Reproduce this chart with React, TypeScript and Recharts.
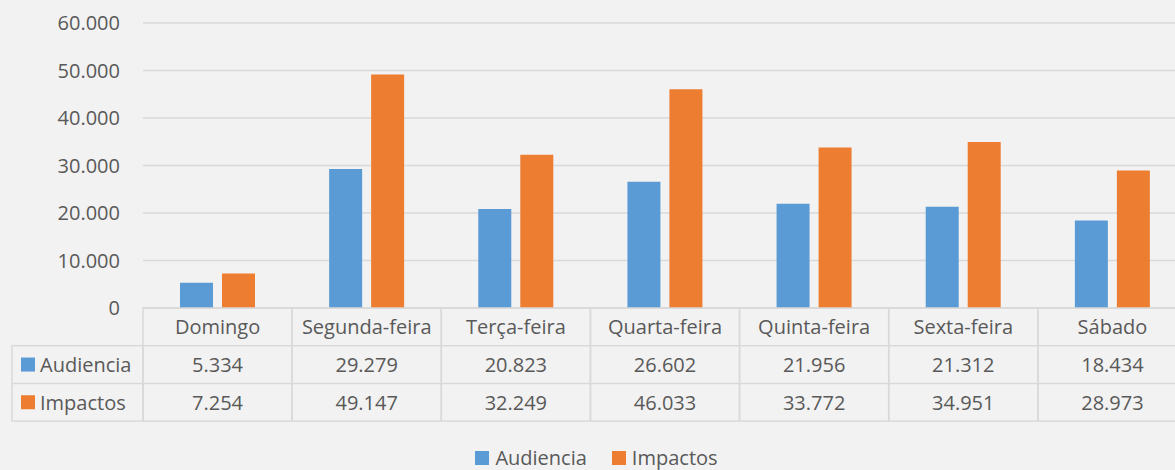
import React from "react";
import { Bar, BarChart, CartesianGrid, Legend, XAxis, YAxis } from "recharts";

const DAYS = ["Domingo", "Segunda-feira", "Terça-feira", "Quarta-feira", "Quinta-feira", "Sexta-feira", "Sábado"];
const AUDIENCIA = [5334, 29279, 20823, 26602, 21956, 21312, 18434];
const IMPACTOS = [7254, 49147, 32249, 46033, 33772, 34951, 28973];
const Y_TICKS = [0, 10000, 20000, 30000, 40000, 50000, 60000];

const BLUE = "#5b9bd5";
const ORANGE = "#ed7d31";
const TEXT = "#595959";
const LINE = "#d9d9d9";
const FONT = "'Open Sans', sans-serif";
const FS = 20;

const CHART_W = 1187;
const CHART_H = 470;
const PLOT_LEFT = 143;
const TABLE_LEFT = 12;
const ROW_H = 37.7;
const BAND = (CHART_W - PLOT_LEFT) / DAYS.length;

const data = DAYS.map((day, i) => ({ day, audiencia: AUDIENCIA[i], impactos: IMPACTOS[i] }));

// pt-BR style thousands: 29.279
const fmt = (v: number) => String(Math.round(v)).replace(/\B(?=(\d{3})+(?!\d))/g, ".");

const SERIES = [
  { key: "audiencia", name: "Audiencia", color: BLUE, values: AUDIENCIA },
  { key: "impactos", name: "Impactos", color: ORANGE, values: IMPACTOS },
];

/** One column of the data table under the bars, drawn at the category tick. */
function TableTick(props: any) {
  const { x, y, payload, index } = props;
  const left = x - BAND / 2;
  const txt = { fill: TEXT, fontSize: FS, fontFamily: FONT, textAnchor: "middle" as const, dominantBaseline: "central" as const };
  return (
    <g>
      <rect x={left} y={y} width={BAND} height={ROW_H * 3} fill="none" stroke={LINE} strokeWidth={1.5} />
      <line x1={left} x2={left + BAND} y1={y + ROW_H} y2={y + ROW_H} stroke={LINE} strokeWidth={1.5} />
      <line x1={left} x2={left + BAND} y1={y + ROW_H * 2} y2={y + ROW_H * 2} stroke={LINE} strokeWidth={1.5} />
      <text x={x} y={y + ROW_H / 2} {...txt}>{payload.value}</text>
      {SERIES.map((s, r) => (
        <text key={s.key} x={x} y={y + ROW_H * (r + 1.5)} {...txt}>{fmt(s.values[index])}</text>
      ))}
      {index === 0 && (
        <g>
          <rect x={TABLE_LEFT} y={y + ROW_H} width={left - TABLE_LEFT} height={ROW_H * 2} fill="none" stroke={LINE} strokeWidth={1.5} />
          <line x1={TABLE_LEFT} x2={left} y1={y + ROW_H * 2} y2={y + ROW_H * 2} stroke={LINE} strokeWidth={1.5} />
          {SERIES.map((s, r) => (
            <g key={s.key}>
              <rect x={TABLE_LEFT + 9} y={y + ROW_H * (r + 1.5) - 7} width={14} height={14} fill={s.color} />
              <text x={TABLE_LEFT + 28} y={y + ROW_H * (r + 1.5)} fill={TEXT} fontSize={FS} fontFamily={FONT} dominantBaseline="central">
                {s.name}
              </text>
            </g>
          ))}
        </g>
      )}
    </g>
  );
}

function LegendContent() {
  return (
    <div style={{ display: "flex", justifyContent: "center", alignItems: "center", fontFamily: FONT, fontSize: FS, color: TEXT }}>
      {SERIES.map((s, i) => (
        <span key={s.key} style={{ display: "flex", alignItems: "center", marginLeft: i ? 25 : 0 }}>
          <span style={{ width: 14, height: 14, background: s.color, marginRight: 6, display: "inline-block" }} />
          {s.name}
        </span>
      ))}
    </div>
  );
}

export default function App() {
  return (
    <div style={{ position: "absolute", left: 0, top: 0, width: 1175, height: 470, overflow: "hidden", background: "#f2f2f2" }}>
      <BarChart
        width={CHART_W}
        height={CHART_H}
        data={data}
        margin={{ top: 23, right: 0, bottom: 0, left: 0 }}
        barSize={33}
        barGap={9}
      >
        <CartesianGrid vertical={false} stroke={LINE} strokeWidth={1.5} />
        <XAxis
          dataKey="day"
          height={162}
          tickSize={0}
          tickMargin={0}
          axisLine={false}
          tickLine={false}
          interval={0}
          tick={<TableTick />}
        />
        <YAxis
          width={PLOT_LEFT}
          domain={[0, 60000]}
          ticks={Y_TICKS}
          tickFormatter={fmt}
          axisLine={false}
          tickLine={false}
          tickMargin={17}
          tick={{ fill: TEXT, fontSize: FS, fontFamily: FONT }}
        />
        <Legend
          layout="horizontal"
          verticalAlign="middle"
          align="center"
          content={<LegendContent />}
          wrapperStyle={{ top: 444, left: 0, width: 1193 }}
        />
        {SERIES.map((s) => (
          <Bar key={s.key} dataKey={s.key} name={s.name} fill={s.color} isAnimationActive={false} />
        ))}
      </BarChart>
    </div>
  );
}
